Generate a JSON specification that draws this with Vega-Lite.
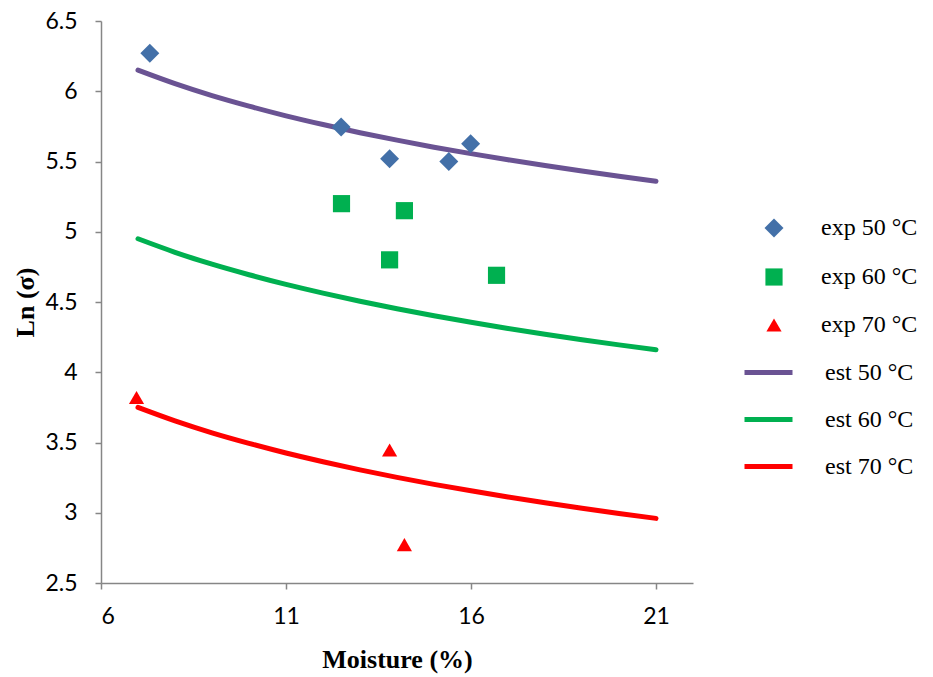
{
  "$schema": "https://vega.github.io/schema/vega-lite/v6.json",
  "width": 592,
  "height": 562,
  "autosize": {"type": "none"},
  "padding": {"left": 101, "top": 21, "right": 240, "bottom": 94},
  "background": "white",
  "config": {
    "view": {"stroke": null},
    "axis": {
      "grid": false,
      "domainColor": "#868686",
      "domainWidth": 1.5,
      "tickColor": "#868686",
      "tickWidth": 1.5,
      "tickSize": 6,
      "labelFont": "Lato",
      "labelFontSize": 23,
      "labelColor": "#000000",
      "titleFont": "Liberation Serif",
      "titleFontSize": 26,
      "titleFontWeight": "bold",
      "titleColor": "#000000"
    },
    "legend": {
      "padding": 0,
      "labelFont": "Liberation Serif",
      "labelFontSize": 24,
      "labelColor": "#000000",
      "title": null
    }
  },
  "datasets": {
    "exp": [
      {"moisture": 7.32, "lnsigma": 6.27, "series": "exp 50 °C"},
      {"moisture": 12.49, "lnsigma": 5.745, "series": "exp 50 °C"},
      {"moisture": 13.8, "lnsigma": 5.52, "series": "exp 50 °C"},
      {"moisture": 15.4, "lnsigma": 5.5, "series": "exp 50 °C"},
      {"moisture": 15.99, "lnsigma": 5.626, "series": "exp 50 °C"},
      {"moisture": 12.5, "lnsigma": 5.2, "series": "exp 60 °C"},
      {"moisture": 14.2, "lnsigma": 5.15, "series": "exp 60 °C"},
      {"moisture": 13.8, "lnsigma": 4.8, "series": "exp 60 °C"},
      {"moisture": 16.69, "lnsigma": 4.69, "series": "exp 60 °C"},
      {"moisture": 6.96, "lnsigma": 3.82, "series": "exp 70 °C"},
      {"moisture": 13.8, "lnsigma": 3.447, "series": "exp 70 °C"},
      {"moisture": 14.2, "lnsigma": 2.773, "series": "exp 70 °C"}
    ],
    "est": [
      {"moisture": 7, "lnsigma": 6.15, "series": "est 50 °C"},
      {"moisture": 8, "lnsigma": 6.054, "series": "est 50 °C"},
      {"moisture": 9, "lnsigma": 5.969, "series": "est 50 °C"},
      {"moisture": 10, "lnsigma": 5.894, "series": "est 50 °C"},
      {"moisture": 11, "lnsigma": 5.825, "series": "est 50 °C"},
      {"moisture": 12, "lnsigma": 5.763, "series": "est 50 °C"},
      {"moisture": 13, "lnsigma": 5.705, "series": "est 50 °C"},
      {"moisture": 14, "lnsigma": 5.652, "series": "est 50 °C"},
      {"moisture": 15, "lnsigma": 5.602, "series": "est 50 °C"},
      {"moisture": 16, "lnsigma": 5.556, "series": "est 50 °C"},
      {"moisture": 17, "lnsigma": 5.512, "series": "est 50 °C"},
      {"moisture": 18, "lnsigma": 5.471, "series": "est 50 °C"},
      {"moisture": 19, "lnsigma": 5.432, "series": "est 50 °C"},
      {"moisture": 20, "lnsigma": 5.395, "series": "est 50 °C"},
      {"moisture": 21, "lnsigma": 5.36, "series": "est 50 °C"},
      {"moisture": 7, "lnsigma": 4.95, "series": "est 60 °C"},
      {"moisture": 8, "lnsigma": 4.854, "series": "est 60 °C"},
      {"moisture": 9, "lnsigma": 4.769, "series": "est 60 °C"},
      {"moisture": 10, "lnsigma": 4.694, "series": "est 60 °C"},
      {"moisture": 11, "lnsigma": 4.625, "series": "est 60 °C"},
      {"moisture": 12, "lnsigma": 4.563, "series": "est 60 °C"},
      {"moisture": 13, "lnsigma": 4.505, "series": "est 60 °C"},
      {"moisture": 14, "lnsigma": 4.452, "series": "est 60 °C"},
      {"moisture": 15, "lnsigma": 4.402, "series": "est 60 °C"},
      {"moisture": 16, "lnsigma": 4.356, "series": "est 60 °C"},
      {"moisture": 17, "lnsigma": 4.312, "series": "est 60 °C"},
      {"moisture": 18, "lnsigma": 4.271, "series": "est 60 °C"},
      {"moisture": 19, "lnsigma": 4.232, "series": "est 60 °C"},
      {"moisture": 20, "lnsigma": 4.195, "series": "est 60 °C"},
      {"moisture": 21, "lnsigma": 4.16, "series": "est 60 °C"},
      {"moisture": 7, "lnsigma": 3.75, "series": "est 70 °C"},
      {"moisture": 8, "lnsigma": 3.654, "series": "est 70 °C"},
      {"moisture": 9, "lnsigma": 3.569, "series": "est 70 °C"},
      {"moisture": 10, "lnsigma": 3.494, "series": "est 70 °C"},
      {"moisture": 11, "lnsigma": 3.425, "series": "est 70 °C"},
      {"moisture": 12, "lnsigma": 3.363, "series": "est 70 °C"},
      {"moisture": 13, "lnsigma": 3.305, "series": "est 70 °C"},
      {"moisture": 14, "lnsigma": 3.252, "series": "est 70 °C"},
      {"moisture": 15, "lnsigma": 3.202, "series": "est 70 °C"},
      {"moisture": 16, "lnsigma": 3.156, "series": "est 70 °C"},
      {"moisture": 17, "lnsigma": 3.112, "series": "est 70 °C"},
      {"moisture": 18, "lnsigma": 3.071, "series": "est 70 °C"},
      {"moisture": 19, "lnsigma": 3.032, "series": "est 70 °C"},
      {"moisture": 20, "lnsigma": 2.995, "series": "est 70 °C"},
      {"moisture": 21, "lnsigma": 2.96, "series": "est 70 °C"}
    ]
  },
  "encoding": {
    "x": {
      "field": "moisture",
      "type": "quantitative",
      "scale": {"domain": [6, 22], "nice": false, "zero": false},
      "axis": {"values": [6, 11, 16, 21], "title": "Moisture (%)", "labelPadding": 16, "titlePadding": 18}
    },
    "y": {
      "field": "lnsigma",
      "type": "quantitative",
      "scale": {"domain": [2.5, 6.5], "nice": false, "zero": false},
      "axis": {"values": [2.5, 3, 3.5, 4, 4.5, 5, 5.5, 6, 6.5], "format": ".1~f", "title": "Ln (σ)", "labelPadding": 18, "titlePadding": 6}
    }
  },
  "layer": [
    {
      "data": {"name": "est"},
      "mark": {"type": "line", "strokeWidth": 5, "strokeCap": "round", "interpolate": "monotone"},
      "encoding": {
        "stroke": {
          "field": "series",
          "type": "nominal",
          "scale": {"domain": ["est 50 °C", "est 60 °C", "est 70 °C"], "range": ["#6A5393", "#00B050", "#FF0000"]},
          "legend": {
            "orient": "none",
            "legendX": 641,
            "legendY": 325,
            "symbolType": "stroke",
            "symbolSize": 2304,
            "symbolStrokeWidth": 5,
            "labelOffset": 30,
            "rowPadding": 8,
            "labelFont": "Liberation Serif",
            "labelFontSize": 24,
            "labelColor": "#000000"
          }
        }
      }
    },
    {
      "data": {"name": "exp"},
      "mark": {"type": "point", "filled": true, "opacity": 1},
      "encoding": {
        "fill": {
          "field": "series",
          "type": "nominal",
          "scale": {"domain": ["exp 50 °C", "exp 60 °C", "exp 70 °C"], "range": ["#4370A8", "#00B050", "#FF0000"]},
          "legend": {
            "orient": "none",
            "legendX": 661,
            "legendY": 195,
            "labelOffset": 35,
            "rowPadding": 24,
            "symbolOpacity": 1,
            "labelFont": "Liberation Serif",
            "labelFontSize": 24,
            "labelColor": "#000000"
          }
        },
        "shape": {
          "field": "series",
          "type": "nominal",
          "scale": {"domain": ["exp 50 °C", "exp 60 °C", "exp 70 °C"], "range": ["diamond", "square", "triangle-up"]}
        },
        "size": {
          "field": "series",
          "type": "nominal",
          "scale": {"domain": ["exp 50 °C", "exp 60 °C", "exp 70 °C"], "range": [360, 230, 360]}
        }
      }
    }
  ]
}
